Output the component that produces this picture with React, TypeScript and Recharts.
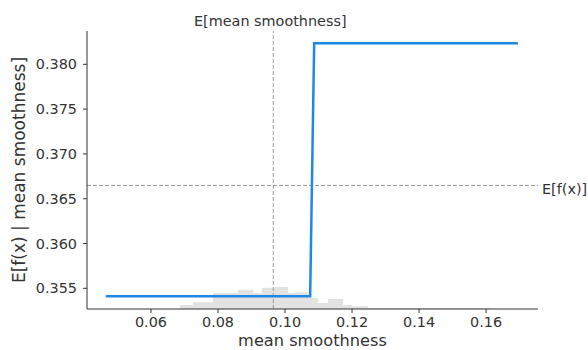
import React from 'react';
import { ComposedChart, Line, Area, XAxis, YAxis, ReferenceLine } from 'recharts';

const FONT = '"DejaVu Sans", sans-serif';
const TEXT = '#333333';
const AXIS = '#333333';

// tick labels
const xTicks = [0.06, 0.08, 0.1, 0.12, 0.14, 0.16];
const yTicks = [0.355, 0.36, 0.365, 0.37, 0.375, 0.38];

// partial dependence line
const pdX = [0.0465, 0.1075, 0.1087, 0.1695];
const pdY = [0.35411, 0.35411, 0.38234, 0.38234];

// feature histogram (bin edges and counts)
const histEdges = [0.0687, 0.0725, 0.0785, 0.086, 0.0905, 0.0931, 0.097, 0.1009, 0.103, 0.1069, 0.1099, 0.1128, 0.1173, 0.12, 0.1248, 0.1299, 0.1612];
const histCounts = [6, 10, 24, 29, 24, 32, 33, 24, 25, 17, 9, 15, 6, 4, 2, 1.5];

// expected values
const expectedX = 0.0965;
const expectedY = 0.36648;

const lineData = pdX.map((x, i) => ({ x, y: pdY[i] }));
const histData = histEdges.map((x, i) => ({ x, c: i < histCounts.length ? histCounts[i] : 0 }));

export default function App() {
  return (
    <div style={{ position: 'absolute', left: 0, top: 0 }}>
      <ComposedChart width={588} height={350} margin={{ top: 31, right: 50, bottom: 0, left: 0 }}>
        <XAxis
          type="number"
          dataKey="x"
          domain={[0.0409, 0.1755]}
          allowDataOverflow
          ticks={xTicks}
          tickFormatter={(v: number) => v.toFixed(2)}
          height={41}
          tickSize={4}
          tickMargin={4}
          stroke={AXIS}
          tick={{ fill: TEXT, fontSize: 14.4, fontFamily: FONT }}
          label={(p: any) => {
            const vb = p.viewBox;
            return (
              <text x={vb.x + vb.width / 2} y={vb.y + 37} textAnchor="middle" fill={TEXT} fontSize={16.2} fontFamily={FONT}>
                mean smoothness
              </text>
            );
          }}
        />
        <YAxis
          yAxisId="left"
          type="number"
          domain={[0.35269, 0.38372]}
          allowDataOverflow
          ticks={yTicks}
          tickFormatter={(v: number) => v.toFixed(3)}
          width={87}
          tickSize={4}
          tickMargin={6}
          stroke={AXIS}
          tick={{ fill: TEXT, fontSize: 14.4, fontFamily: FONT }}
          label={(p: any) => {
            const vb = p.viewBox;
            const cx = vb.x + 25;
            const cy = vb.y + vb.height / 2;
            return (
              <text x={cx} y={cy} transform={`rotate(-90 ${cx} ${cy})`} textAnchor="middle" fill={TEXT} fontSize={17} fontFamily={FONT}>
                E[f(x) | mean smoothness]
              </text>
            );
          }}
        />
        <YAxis yAxisId="hist" orientation="right" width={0} type="number" domain={[0, 417]} allowDataOverflow hide />
        <Area
          yAxisId="hist"
          data={histData}
          dataKey="c"
          type="stepAfter"
          stroke="none"
          fill="#e2e2e2"
          fillOpacity={1}
          dot={false}
          activeDot={false}
          isAnimationActive={false}
        />
        <ReferenceLine
          yAxisId="left"
          x={expectedX}
          stroke="#999999"
          strokeWidth={1}
          strokeDasharray="4 2"
          label={(p: any) => {
            const vb = p.viewBox;
            return (
              <text x={vb.x - 3} y={vb.y - 5.5} textAnchor="middle" fill={TEXT} fontSize={14.4} fontFamily={FONT}>
                E[mean smoothness]
              </text>
            );
          }}
        />
        <ReferenceLine
          yAxisId="left"
          y={expectedY}
          stroke="#999999"
          strokeWidth={1}
          strokeDasharray="4 2"
          label={(p: any) => {
            const vb = p.viewBox;
            return (
              <text x={vb.x + vb.width + 4} y={vb.y + 8.5} textAnchor="start" fill={TEXT} fontSize={14.4} fontFamily={FONT}>
                E[f(x)]
              </text>
            );
          }}
        />
        <Line
          yAxisId="left"
          data={lineData}
          dataKey="y"
          type="linear"
          stroke="#1E88E5"
          strokeWidth={2.5}
          dot={false}
          activeDot={false}
          isAnimationActive={false}
        />
      </ComposedChart>
    </div>
  );
}
